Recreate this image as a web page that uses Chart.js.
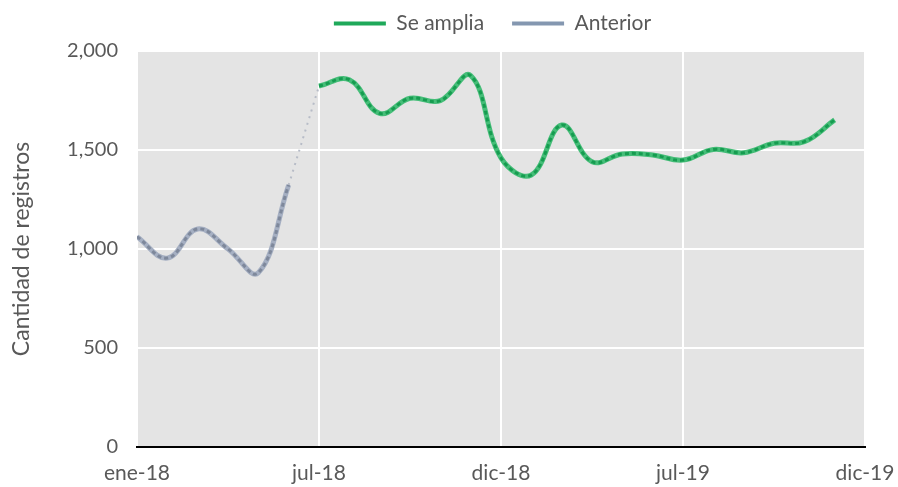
<!DOCTYPE html>
<html>
<head>
<meta charset="utf-8">
<script src="https://cdn.jsdelivr.net/npm/chart.js@4"></script>
<style>
  html, body { margin: 0; padding: 0; background: #fff; }
  #wrap { width: 898px; height: 487px; }
</style>
</head>
<body>
<div id="wrap"><canvas id="chart" width="898" height="487"></canvas></div>
<script>
// Etiquetas del eje X (cada 6 meses) y datos mensuales
const tickLabels = ['ene-18', 'jul-18', 'dic-18', 'jul-19', 'dic-19'];
const months = ['ene-18','feb-18','mar-18','abr-18','may-18','jun-18','jul-18','ago-18','sep-18','oct-18','nov-18','dic-18',
                'ene-19','feb-19','mar-19','abr-19','may-19','jun-19','jul-19','ago-19','sep-19','oct-19','nov-19','dic-19'];
const anterior = [1062, 954, 1101, 1000, 880, 1323];
const seAmplia = [1823, 1855, 1685, 1761, 1749, 1876, 1460, 1374, 1626, 1441, 1480, 1475, 1449, 1503, 1486, 1534, 1542, 1652];
const seAmpliaStart = 6;

// Puntos {x,y} por índice de mes
const antPts = anterior.map((v, i) => ({ x: i, y: v }));
const ampPts = seAmplia.map((v, i) => ({ x: i + seAmpliaStart, y: v }));
const gapPts = [antPts[antPts.length - 1], ampPts[0]];

// Fondo gris del área de trazado
const plotBg = {
    id: 'plotBg',
    beforeDraw(chart) {
        const { ctx, chartArea: a } = chart;
        ctx.save();
        ctx.fillStyle = '#e4e4e4';
        ctx.fillRect(a.left, a.top, a.right - a.left, a.bottom - a.top);
        ctx.restore();
    }
};

// Leyenda: alto fijo y desplazada para centrarla sobre el área de trazado
const legendTweak = {
    id: 'legendTweak',
    beforeLayout(chart) {
        const lg = chart.legend;
        if (!lg || lg._tweaked) return;
        const fit = lg.fit.bind(lg);
        lg.fit = function () { fit(); this.height = 51; };
        const draw = lg.draw.bind(lg);
        lg.draw = function () {
            const c = this.ctx;
            c.save();
            c.translate(60, -15);
            draw();
            c.restore();
        };
        lg._tweaked = true;
    }
};

const ctx = document.getElementById('chart').getContext('2d');
new Chart(ctx, {
    type: 'line',
    data: {
        datasets: [
            {
                label: 'Se amplia',
                data: ampPts,
                borderColor: '#45bd78',
                backgroundColor: '#1fa95a',
                borderWidth: 5,
                tension: 0.4,
                pointRadius: 0,
                order: 3
            },
            {
                label: 'Anterior',
                data: antPts,
                borderColor: '#a5afc2',
                backgroundColor: '#8497b0',
                borderWidth: 5,
                tension: 0.4,
                pointRadius: 0,
                order: 3
            },
            {
                label: 'amp-dash',
                data: ampPts,
                borderColor: '#169c50',
                borderWidth: 3,
                borderDash: [4, 3],
                tension: 0.4,
                pointRadius: 0,
                order: 1
            },
            {
                label: 'ant-dash',
                data: antPts,
                borderColor: '#7e889b',
                borderWidth: 3,
                borderDash: [4, 3],
                tension: 0.4,
                pointRadius: 0,
                order: 1
            },
            {
                label: 'gap',
                data: gapPts,
                borderColor: '#b7bcc7',
                borderWidth: 2,
                borderDash: [2, 5],
                tension: 0,
                pointRadius: 0,
                order: 4
            }
        ]
    },
    options: {
        responsive: false,
        animation: false,
        layout: { padding: { top: 0, right: 33, bottom: 0, left: 0 } },
        plugins: {
            tooltip: { enabled: false },
            legend: {
                position: 'top',
                labels: {
                    filter: item => item.text === 'Se amplia' || item.text === 'Anterior',
                    color: '#595959',
                    font: { family: 'Lato', size: 21 },
                    boxWidth: 52,
                    boxHeight: 0,
                    padding: 28,
                    generateLabels(chart) {
                        return chart.data.datasets.map((ds, i) => ({
                            text: ds.label,
                            fillStyle: ds.backgroundColor,
                            strokeStyle: ds.backgroundColor,
                            lineWidth: 4,
                            fontColor: '#595959',
                            datasetIndex: i
                        }));
                    }
                }
            }
        },
        scales: {
            x: {
                type: 'linear',
                min: 0,
                max: 24,
                afterFit(scale) {
                    scale.height = 40;
                    scale.paddingLeft = 0;
                    scale.paddingRight = 0;
                },
                afterBuildTicks(scale) {
                    scale.ticks = tickLabels.map((t, i) => ({ value: i * 6 }));
                },
                ticks: {
                    callback: (v) => tickLabels[v / 6],
                    color: '#595959',
                    font: { family: 'Lato', size: 21 },
                    padding: 14,
                    maxRotation: 0
                },
                grid: { color: '#ffffff', lineWidth: 2, drawTicks: false },
                border: { color: '#000000', width: 2 }
            },
            y: {
                min: 0,
                max: 2000,
                afterFit(scale) {
                    scale.width = 137;
                    scale.paddingTop = 0;
                    scale.paddingBottom = 0;
                },
                ticks: {
                    stepSize: 500,
                    color: '#595959',
                    font: { family: 'Lato', size: 20 },
                    padding: 19,
                    callback: v => v.toLocaleString('en-US')
                },
                grid: { color: '#ffffff', lineWidth: 2, drawTicks: false },
                border: { display: false },
                title: {
                    display: true,
                    text: 'Cantidad de registros',
                    color: '#595959',
                    font: { family: 'Lato', size: 23 },
                    padding: { top: 8, bottom: 0 }
                }
            }
        }
    },
    plugins: [plotBg, legendTweak]
});
</script>
</body>
</html>
